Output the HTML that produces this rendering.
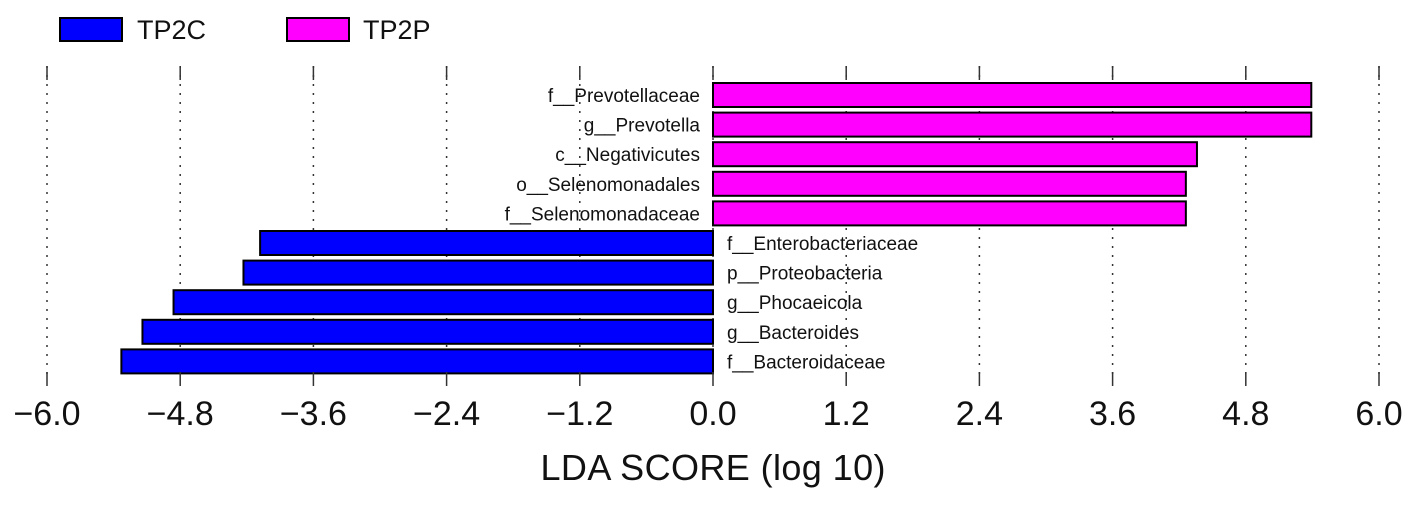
<!DOCTYPE html>
<html><head><meta charset="utf-8"><style>
body{margin:0;background:#fff;}
svg text{font-family:"Liberation Sans",sans-serif;fill:#111;}
</style></head><body>
<svg id="chart" width="1417" height="505" viewBox="0 0 1417 505">
<g>
<rect x="60" y="18" width="62" height="23" fill="#0000ff" stroke="#000" stroke-width="2"/>
<text x="137" y="39" font-size="27">TP2C</text>
<rect x="287" y="18" width="62" height="23" fill="#ff00ff" stroke="#000" stroke-width="2"/>
<text x="363" y="39" font-size="27">TP2P</text>
</g>
<g id="grid"></g>
<g id="bars"></g>
<g id="ticks"></g>
<text x="713" y="480" font-size="36" text-anchor="middle" textLength="345">LDA SCORE (log 10)</text>
</svg>
<script>
const categories=["f__Prevotellaceae","g__Prevotella","c__Negativicutes","o__Selenomonadales","f__Selenomonadaceae","f__Enterobacteriaceae","p__Proteobacteria","g__Phocaeicola","g__Bacteroides","f__Bacteroidaceae"];
const values=[5.39,5.39,4.36,4.26,4.26,-4.08,-4.23,-4.86,-5.14,-5.33];
const tickValues=[-6,-4.8,-3.6,-2.4,-1.2,0,1.2,2.4,3.6,4.8,6];
const tickLabels=["\u22126.0","\u22124.8","\u22123.6","\u22122.4","\u22121.2","0.0","1.2","2.4","3.6","4.8","6.0"];
const NS="http://www.w3.org/2000/svg";
const x=v=>713+v*111;
const y=i=>95+i*29.6;
function mk(tag,attrs,parent){const e=document.createElementNS(NS,tag);for(const k in attrs)e.setAttribute(k,attrs[k]);parent.appendChild(e);return e;}
const grid=document.getElementById('grid'),bars=document.getElementById('bars'),ticks=document.getElementById('ticks');
tickValues.forEach((t,i)=>{
  const g=mk('line',{x1:x(t),x2:x(t),y1:66,y2:375,stroke:'#333','stroke-width':1.5,'stroke-dasharray':'2,7'},grid);
  
  
  const a=mk('line',{x1:x(t),x2:x(t),y1:66,y2:80,stroke:'#333','stroke-width':1.5},ticks);
  
  
  const b=mk('line',{x1:x(t),x2:x(t),y1:372,y2:386,stroke:'#333','stroke-width':1.5},ticks);
  
  
  const l=mk('text',{x:x(t),y:425,'font-size':34,'text-anchor':'middle'},ticks);
  l.textContent=tickLabels[i];
  
  
});
categories.forEach((c,i)=>{
  const v=values[i];
  const r=mk('rect',{x:Math.min(x(0),x(v)),y:y(i)-12,width:Math.abs(x(v)-x(0)),height:24,fill:v>0?'#ff00ff':'#0000ff',stroke:'#000','stroke-width':2},bars);
  
  
  const t=mk('text',{x:v>0?x(0)-13:x(0)+14,y:y(i)+7,'font-size':19,'text-anchor':v>0?'end':'start'},bars);
  t.textContent=c;
  
  
});
</script>
</body></html>
